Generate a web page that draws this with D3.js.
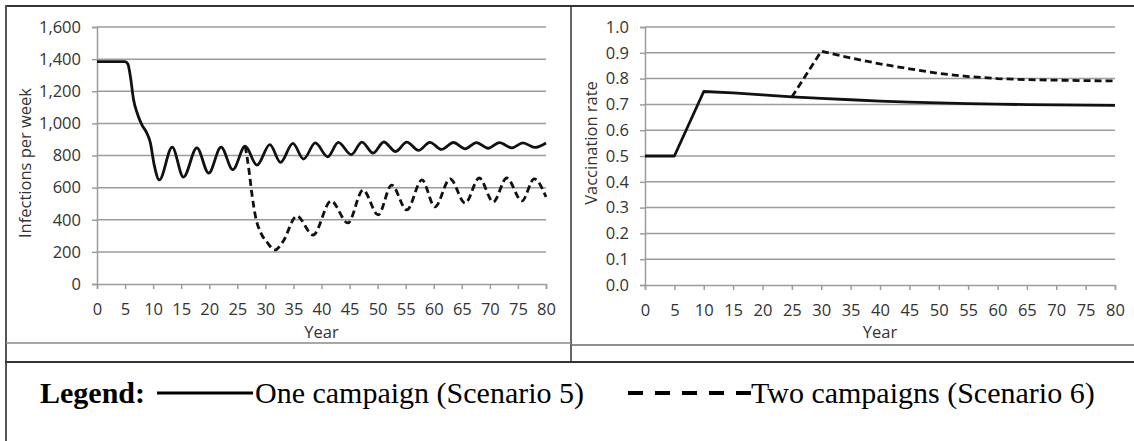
<!DOCTYPE html>
<html>
<head>
<meta charset="utf-8">
<script src="https://cdn.jsdelivr.net/npm/d3@7"></script>
<style>
  body { margin: 0; background: #fff; }
  svg { display: block; }
</style>
</head>
<body>
<div id="chart"></div>
<script>

// Data
var yearTicks = [0, 5, 10, 15, 20, 25, 30, 35, 40, 45, 50, 55, 60, 65, 70, 75, 80];
var infectionTicks = [0, 200, 400, 600, 800, 1000, 1200, 1400, 1600];
var rateTicks = [0, 0.1, 0.2, 0.3, 0.4, 0.5, 0.6, 0.7, 0.8, 0.9, 1.0];

// infections per week, one campaign (year, value)
var infectionsOne = [
  [0, 1385], [5, 1385], [5.5, 1370], [6, 1280], [6.5, 1150], [7.2, 1060], [8, 990],
  [8.8, 945], [9.5, 880], [10.2, 740], [11.1, 648], [13.4, 852], [15.4, 665],
  [17.8, 848], [19.9, 690], [22.1, 852], [24.2, 712], [26.4, 858], [28.5, 740],
  [30.8, 868], [32.7, 757], [34.9, 875], [36.8, 778], [38.9, 878], [41.1, 792],
  [43.0, 882], [45.3, 805], [47.2, 883], [49.2, 815], [51.1, 884], [53.2, 825],
  [55.2, 883], [57.3, 832], [59.3, 882], [61.4, 838], [63.5, 881], [65.6, 842],
  [67.6, 880], [69.7, 845], [71.7, 880], [73.9, 848], [75.9, 879], [78.0, 850], [80, 878]
];

// infections per week, two campaigns (from where it leaves the first line)
var infectionsTwo = [
  [26.4, 858], [27.0, 730], [27.6, 560], [28.3, 410], [29.1, 325], [30.3, 260],
  [31.7, 212], [33.1, 262], [35.6, 423], [38.5, 305], [41.7, 517], [44.7, 380],
  [47.4, 585], [50.1, 430], [52.5, 616], [55.2, 461], [57.9, 648], [60.2, 480],
  [62.9, 654], [65.6, 504], [68.1, 660], [70.6, 511], [73.0, 660], [75.7, 517],
  [77.9, 654], [80, 542]
];

// vaccination rate
var rateOne = [
  [0, 0.5], [5, 0.5], [10, 0.75], [15, 0.745], [20, 0.737], [25, 0.729], [30, 0.723],
  [35, 0.718], [40, 0.713], [45, 0.709], [50, 0.706], [55, 0.703], [60, 0.701],
  [65, 0.699], [70, 0.698], [75, 0.697], [80, 0.696]
];
var rateTwo = [
  [25, 0.729], [30, 0.906], [35, 0.88], [40, 0.857], [45, 0.838], [50, 0.82],
  [55, 0.808], [60, 0.80], [65, 0.796], [70, 0.794], [75, 0.792], [80, 0.791]
];

var legendLabels = ["One campaign (Scenario 5)", "Two campaigns (Scenario 6)"];

var W = 1134, H = 441;
var gridColor = "#9c9c9c", textColor = "#333", frameColor = "#333";
var tickFont = "'Open Sans', sans-serif";
var tickSize = "16.5px";

var svg = d3.select("#chart")
  .append("svg")
    .attr("width", W)
    .attr("height", H);

// Frame lines
function hline(x1, x2, y, color, w) {
  svg.append("line").attr("x1", x1).attr("x2", x2).attr("y1", y).attr("y2", y)
    .attr("stroke", color).attr("stroke-width", w);
}
function vline(x, y1, y2, color, w) {
  svg.append("line").attr("x1", x).attr("x2", x).attr("y1", y1).attr("y2", y2)
    .attr("stroke", color).attr("stroke-width", w);
}
hline(5, W, 6, frameColor, 2);
vline(6, 5, H, "#555", 2);
vline(571, 5, 362, frameColor, 1.5);
hline(6, 571, 343, "#8a8a8a", 1.5);
hline(571, W, 345, "#6a6a6a", 1.5);
hline(5, W, 362, frameColor, 2);

function drawPanel(opt) {
  var x = d3.scaleLinear().domain([0, 80]).range(opt.xRange);
  var y = d3.scaleLinear().domain(opt.yDomain).range(opt.yRange);
  var g = svg.append("g");

  // Gridlines
  g.selectAll(".grid")
    .data(opt.yTicks.slice(1))
    .enter()
    .append("line")
    .attr("x1", x(0)).attr("x2", x(80))
    .attr("y1", function(d) { return y(d); })
    .attr("y2", function(d) { return y(d); })
    .attr("stroke", gridColor)
    .attr("stroke-width", 1.5);

  // Y axis
  var yAxis = g.append("g")
    .attr("transform", "translate(" + x(0) + ",0)")
    .call(d3.axisLeft(y).tickValues(opt.yTicks).tickSize(5).tickPadding(11).tickFormat(opt.yFormat));

  // X axis
  var xAxis = g.append("g")
    .attr("transform", "translate(0," + y(0) + ")")
    .call(d3.axisBottom(x).tickValues(yearTicks).tickSize(5).tickPadding(14).tickFormat(d3.format("d")));

  [yAxis, xAxis].forEach(function(a) {
    a.select(".domain").attr("stroke", gridColor).attr("stroke-width", 1.5);
    a.selectAll(".tick line").attr("stroke", gridColor).attr("stroke-width", 1.5);
    a.selectAll(".tick text")
      .attr("fill", textColor)
      .attr("font-size", tickSize)
      .attr("font-family", tickFont);
  });

  // Axis titles
  g.append("text")
    .attr("x", (opt.xRange[0] + opt.xRange[1]) / 2)
    .attr("y", 338)
    .attr("text-anchor", "middle")
    .attr("fill", textColor)
    .attr("font-size", tickSize)
    .attr("font-family", tickFont)
    .text("Year");

  g.append("text")
    .attr("transform", "translate(" + opt.titleX + "," + opt.titleY + ") rotate(-90)")
    .attr("text-anchor", "middle")
    .attr("dy", "0.35em")
    .attr("fill", textColor)
    .attr("font-size", tickSize)
    .attr("font-family", tickFont)
    .text(opt.title);

  var line = d3.line()
    .x(function(d) { return x(d[0]); })
    .y(function(d) { return y(d[1]); })
    .curve(opt.curve);

  // Lines
  g.append("path")
    .attr("d", line(opt.two))
    .attr("fill", "none")
    .attr("stroke", "#111")
    .attr("stroke-width", 2.8)
    .attr("stroke-dasharray", "7,4");

  g.append("path")
    .attr("d", line(opt.one))
    .attr("fill", "none")
    .attr("stroke", "#111")
    .attr("stroke-width", 2.8)
    .attr("stroke-linejoin", "round");
}

drawPanel({
  xRange: [97, 546], yRange: [284, 27], yDomain: [0, 1600],
  yTicks: infectionTicks, yFormat: d3.format(","),
  title: "Infections per week", titleX: 25, titleY: 163,
  one: infectionsOne, two: infectionsTwo, curve: d3.curveMonotoneX
});

drawPanel({
  xRange: [645, 1115], yRange: [285, 27], yDomain: [0, 1],
  yTicks: rateTicks, yFormat: d3.format(".1f"),
  title: "Vaccination rate", titleX: 591, titleY: 143,
  one: rateOne, two: rateTwo, curve: d3.curveLinear
});

// Legend
var legend = svg.append("g").attr("font-family", "'Liberation Serif', 'Times New Roman', serif");
var legendY = 403;

legend.append("text")
  .attr("x", 40).attr("y", legendY)
  .attr("font-size", "30px")
  .attr("font-weight", "bold")
  .text("Legend:");

legend.append("line")
  .attr("x1", 157).attr("x2", 253).attr("y1", 393).attr("y2", 393)
  .attr("stroke", "#000").attr("stroke-width", 3);

legend.append("text")
  .attr("x", 255).attr("y", legendY)
  .attr("font-size", "30px")
  .text(legendLabels[0]);

legend.append("line")
  .attr("x1", 628).attr("x2", 751).attr("y1", 393).attr("y2", 393)
  .attr("stroke", "#000").attr("stroke-width", 4)
  .attr("stroke-dasharray", "15,12");

legend.append("text")
  .attr("x", 751).attr("y", legendY)
  .attr("font-size", "30px")
  .text(legendLabels[1]);

</script>
</body>
</html>
